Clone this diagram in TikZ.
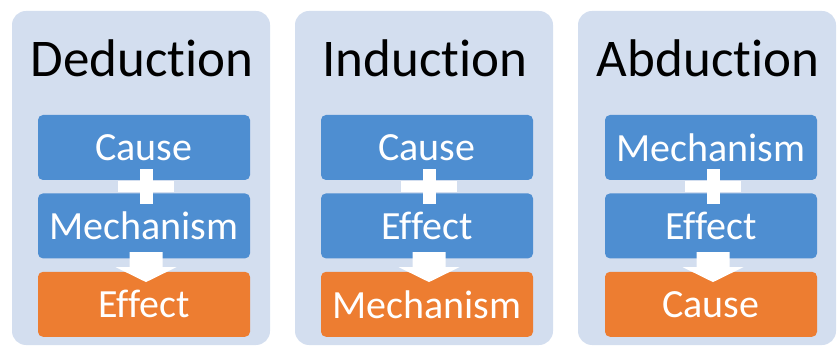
\documentclass[tikz,border=0pt]{standalone}
\usepackage{fontspec}
\setmainfont{Carlito}[Ligatures=NoCommon]
\usetikzlibrary{positioning,calc}

\definecolor{panelblue}{HTML}{D3DEEF}
\definecolor{boxblue}{HTML}{4E8ED1}
\definecolor{boxorange}{HTML}{ED7D31}

\tikzset{
  panel/.style={rectangle,rounded corners=14pt,fill=panelblue,minimum width=258pt,minimum height=334pt,inner sep=0pt},
  title/.style={font=\fontsize{53}{57}\selectfont,text=black,inner sep=0pt},
  premise/.style={rectangle,rounded corners=5pt,fill=boxblue,text=white,minimum width=212pt,minimum height=65pt,inner sep=0pt,font=\fontsize{40}{44}\selectfont},
  result/.style={premise,fill=boxorange},
  plusv/.style={rectangle,fill=white,inner sep=0pt,minimum width=13pt,minimum height=35pt,xshift=2pt},
  plush/.style={rectangle,fill=white,inner sep=0pt,minimum width=56pt,minimum height=11pt},
  blockarrow/.style={fill=white}
}

\begin{document}
\begin{tikzpicture}[x=1pt,y=1pt,node distance=13pt]
\useasboundingbox (0,0) rectangle (837,348);

% panels
\node[panel] (dbg) at (141,170) {};
\node[panel] (ibg) at (424,170) {};
\node[panel] (abg) at (707,170) {};

% deduction
\node[title,anchor=base] (d0) at (142,271) {Deduction};
\node[premise] (d1) at (144,200.5) {Cause};
\node[premise] (d2) [below=of d1] {Mechanism};
\node[result]  (d3) [below=of d2] {Effect};
\node[plusv] (dpv) at ($(d1.south)!.5!(d2.north)$) {};
\node[plush] (dph) at (dpv) {};
\coordinate (da) at ($(d2.south)!.5!(d3.north)+(2,-2)$);

% induction
\node[title,anchor=base] (i0) at (425,271) {Induction};
\node[premise] (i1) at (427,200.5) {Cause};
\node[premise] (i2) [below=of i1] {Effect};
\node[result]  (i3) [below=of i2] {Mechanism};
\node[plusv] (ipv) at ($(i1.south)!.5!(i2.north)$) {};
\node[plush] (iph) at (ipv) {};
\coordinate (ia) at ($(i2.south)!.5!(i3.north)+(2,-2)$);

% abduction
\node[title,anchor=base] (a0) at (708,271) {Abduction};
\node[premise] (a1) at (711,200.5) {Mechanism};
\node[premise] (a2) [below=of a1] {Effect};
\node[result]  (a3) [below=of a2] {Cause};
\node[plusv] (apv) at ($(a1.south)!.5!(a2.north)$) {};
\node[plush] (aph) at (apv) {};
\coordinate (aa) at ($(a2.south)!.5!(a3.north)+(2,-2)$);

% block arrows
\fill[blockarrow] ($(da)+(-16.5,15)$) -- ++(33,0) -- ++(0,-15) -- ++(14,0) -- ($(da)+(0,-15)$) -- ($(da)+(-30.5,0)$) -- ++(14,0) -- cycle;
\fill[blockarrow] ($(ia)+(-16.5,15)$) -- ++(33,0) -- ++(0,-15) -- ++(14,0) -- ($(ia)+(0,-15)$) -- ($(ia)+(-30.5,0)$) -- ++(14,0) -- cycle;
\fill[blockarrow] ($(aa)+(-16.5,15)$) -- ++(33,0) -- ++(0,-15) -- ++(14,0) -- ($(aa)+(0,-15)$) -- ($(aa)+(-30.5,0)$) -- ++(14,0) -- cycle;

\end{tikzpicture}
\end{document}
